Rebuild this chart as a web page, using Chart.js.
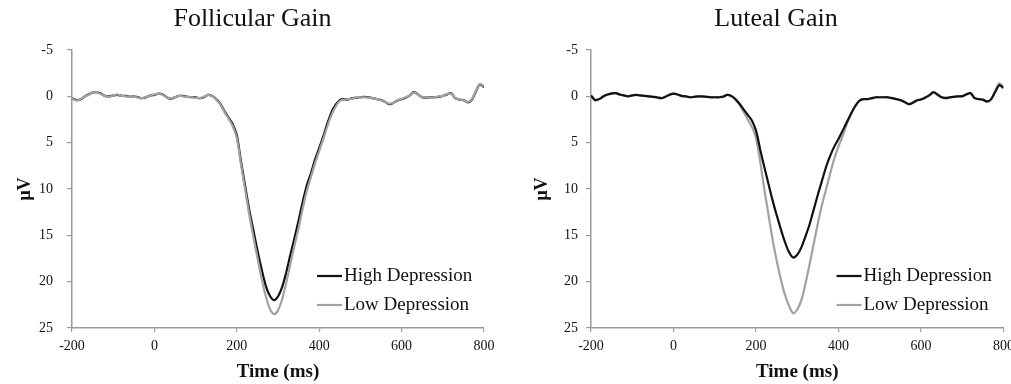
<!DOCTYPE html>
<html>
<head>
<meta charset="utf-8">
<script src="https://cdn.jsdelivr.net/npm/chart.js@4.4.0/dist/chart.umd.min.js"></script>
<style>
  html, body { margin: 0; padding: 0; background: #fff; }
  body { width: 1011px; height: 384px; position: relative; overflow: hidden; }
  canvas { position: absolute; top: 0; }
</style>
</head>
<body>
<canvas id="folChart" width="505" height="384" style="left:0px"></canvas>
<canvas id="lutChart" width="486" height="384" style="left:525px"></canvas>
<script>
'use strict';

// time points (ms)
let times = [-200,-190,-180,-170,-160,-150,-140,-130,-120,-110,
  -100,-90,-80,-70,-60,-50,-40,-30,-20,-10,
  0,10,20,30,40,50,60,70,80,90,
  100,110,120,130,140,150,160,170,180,190,
  200,210,220,230,240,250,260,270,280,290,
  300,310,320,330,340,350,360,370,380,390,
  400,410,420,430,440,450,460,470,480,490,
  500,510,520,530,540,550,560,570,580,590,
  600,610,620,630,640,650,660,670,680,690,
  700,710,720,730,740,750,760,770,780,790,
  800];

let xTicks = [-200, 0, 200, 400, 600, 800];
let yTicks = [-5, 0, 5, 10, 15, 20, 25];
let seriesNames = ['High Depression', 'Low Depression'];

// Follicular gain, high depression
let folHigh = [0.2,0.4,0.35,0.05,-0.2,-0.4,-0.45,-0.3,-0.05,0.0,
  -0.1,-0.15,-0.05,-0.05,0.05,0.0,0.1,0.2,0.1,-0.1,
  -0.15,-0.3,-0.2,0.1,0.25,0.1,-0.05,-0.05,0.05,0.1,
  0.1,0.2,0.1,-0.15,-0.05,0.3,0.8,1.6,2.3,3.0,
  4.2,7.0,9.6,12.2,14.4,16.6,18.6,20.4,21.5,22.0,
  21.6,20.6,19.0,17.1,15.3,13.4,11.4,9.6,8.3,6.8,
  5.6,4.3,2.9,1.7,0.9,0.4,0.3,0.35,0.2,0.15,
  0.1,0.05,0.1,0.2,0.3,0.4,0.6,0.85,0.7,0.45,
  0.3,0.15,-0.1,-0.45,-0.2,0.1,0.15,0.1,0.1,0.05,
  -0.05,-0.2,-0.35,0.2,0.35,0.4,0.65,0.4,-0.5,-1.3,
  -1.0];

// Follicular gain, low depression
let folLow = [0.2,0.45,0.3,0.05,-0.15,-0.4,-0.45,-0.25,-0.05,0.05,
  -0.1,-0.2,-0.05,0.0,0.05,0.0,0.15,0.2,0.05,-0.1,
  -0.2,-0.3,-0.15,0.1,0.2,0.1,-0.05,0.0,0.05,0.1,
  0.15,0.2,0.05,-0.15,0.0,0.35,0.9,1.7,2.4,3.2,
  4.5,7.3,10.0,12.7,15.1,17.4,19.6,21.5,22.9,23.5,
  23.1,21.9,20.1,18.1,16.1,14.2,12.1,10.2,8.7,7.2,
  5.9,4.6,3.2,2.0,1.1,0.5,0.35,0.3,0.25,0.1,
  0.1,0.1,0.15,0.2,0.3,0.45,0.6,0.8,0.7,0.4,
  0.3,0.1,-0.1,-0.4,-0.2,0.1,0.1,0.15,0.1,0.0,
  -0.05,-0.25,-0.3,0.2,0.3,0.45,0.6,0.35,-0.55,-1.35,
  -1.1];

// Luteal gain, high depression
let lutHigh = [-0.1,0.4,0.3,0.0,-0.2,-0.3,-0.35,-0.2,-0.1,0.0,
  -0.1,-0.15,-0.1,-0.05,0.0,0.05,0.1,0.2,0.05,-0.15,
  -0.3,-0.2,-0.05,0.0,0.1,0.05,0.0,0.0,0.05,0.1,
  0.1,0.1,0.05,-0.15,-0.05,0.3,0.8,1.4,2.0,2.6,
  3.7,5.7,7.6,9.4,11.2,12.8,14.3,15.7,16.8,17.4,
  17.1,16.3,15.1,13.8,12.2,10.6,9.1,7.6,6.4,5.4,
  4.6,3.7,2.8,1.9,1.1,0.5,0.3,0.3,0.2,0.1,
  0.1,0.1,0.1,0.2,0.3,0.4,0.6,0.85,0.7,0.45,
  0.35,0.15,-0.1,-0.45,-0.2,0.1,0.2,0.1,0.05,0.0,
  0.0,-0.2,-0.35,0.2,0.3,0.35,0.55,0.3,-0.5,-1.2,
  -0.9];

// Luteal gain, low depression
let lutLow = [-0.1,0.45,0.3,0.05,-0.2,-0.35,-0.35,-0.15,-0.1,0.0,
  -0.1,-0.15,-0.05,-0.05,0.0,0.05,0.15,0.2,0.05,-0.2,
  -0.3,-0.2,0.0,0.0,0.1,0.05,0.0,0.05,0.05,0.1,
  0.1,0.1,0.0,-0.15,0.0,0.35,0.9,1.7,2.5,3.3,
  4.5,7.0,10.0,12.7,15.4,17.7,19.7,21.4,22.6,23.4,
  23.0,22.0,20.2,18.1,15.9,13.7,11.7,10.0,8.3,6.7,
  5.4,4.3,3.0,2.0,1.1,0.5,0.3,0.3,0.25,0.15,
  0.1,0.1,0.15,0.2,0.3,0.45,0.6,0.8,0.65,0.4,
  0.3,0.1,-0.1,-0.4,-0.15,0.1,0.15,0.15,0.05,0.0,
  -0.05,-0.25,-0.3,0.2,0.3,0.4,0.6,0.35,-0.6,-1.4,
  -1.0];

let fontFam = '"Liberation Serif", "Times New Roman", serif';
let axisGray = '#9a9a9a';

function toPoints(vals){
  let pts = [];
  for(let i = 0; i < times.length; i++){
    pts.push({x: times[i], y: vals[i]});
  }
  return pts;
}

// legend drawn inside the plot, bottom right
const insideLegend = {
  id: 'insideLegend',
  afterDatasetsDraw(chart){
    const ctx = chart.ctx;
    const area = chart.chartArea;
    const rows = [226, 255];
    ctx.save();
    ctx.font = '19px ' + fontFam;
    ctx.textBaseline = 'middle';
    ctx.textAlign = 'left';
    chart.data.datasets.forEach(function(ds, i){
      let y = area.top + rows[i];
      ctx.strokeStyle = ds.borderColor;
      ctx.lineWidth = ds.borderWidth;
      ctx.beginPath();
      ctx.moveTo(area.right - 167, y);
      ctx.lineTo(area.right - 142, y);
      ctx.stroke();
      ctx.fillStyle = '#111';
      ctx.fillText(ds.label, area.right - 140, y);
    });
    ctx.restore();
  }
};

function makeChart(id, titleText, high, low, cfg){
  let ctx = document.getElementById(id).getContext('2d');
  return new Chart(ctx, {
    type: 'line',
    data: {
      datasets: [{
        label: seriesNames[0],
        data: toPoints(high),
        borderColor: '#111111',
        borderWidth: 2.2,
        pointRadius: 0,
        tension: 0.3,
        order: cfg.highOrder
      }, {
        label: seriesNames[1],
        data: toPoints(low),
        borderColor: '#a2a2a2',
        borderWidth: 2.2,
        pointRadius: 0,
        tension: 0.3,
        order: 1 - cfg.highOrder
      }]
    },
    options: {
      responsive: false,
      animation: false,
      layout: { padding: { left: cfg.padLeft, right: 0, top: 0, bottom: 0 } },
      plugins: {
        legend: { display: false },
        tooltip: { enabled: false },
        title: {
          display: true,
          text: titleText,
          color: '#111',
          font: { family: fontFam, size: 26, weight: 'normal' },
          padding: { top: 4, bottom: 14.8 }
        }
      },
      scales: {
        x: {
          type: 'linear',
          min: -200,
          max: 800,
          afterBuildTicks: function(scale){ scale.ticks = xTicks.map(v => ({value: v})); },
          afterFit: function(scale){
            scale.height = 56;
            scale.paddingLeft = 0;
            scale.paddingRight = cfg.rightGap;
          },
          grid: { drawOnChartArea: false, drawTicks: true, tickLength: 4, color: axisGray, lineWidth: 1.2 },
          border: { display: true, color: axisGray, width: 1.5 },
          ticks: { color: '#111', padding: 6, font: { family: fontFam, size: 14 } },
          title: {
            display: true,
            text: 'Time (ms)',
            color: '#111',
            font: { family: fontFam, size: 19, weight: 'bold' },
            padding: { top: 0, bottom: 1 }
          }
        },
        y: {
          min: -5,
          max: 25,
          reverse: true,
          afterBuildTicks: function(scale){ scale.ticks = yTicks.map(v => ({value: v})); },
          afterFit: function(scale){ scale.width = cfg.yWidth; },
          grid: { drawOnChartArea: false, drawTicks: true, tickLength: 5, color: axisGray, lineWidth: 1.2 },
          border: { display: true, color: axisGray, width: 1.5 },
          ticks: { color: '#111', padding: cfg.yTickPad, font: { family: fontFam, size: 14 } },
          title: {
            display: true,
            text: 'μV',
            color: '#111',
            font: { family: fontFam, size: 18, weight: 'bold' },
            padding: { top: cfg.yTitlePad, bottom: 0 }
          }
        }
      }
    },
    plugins: [insideLegend]
  });
}

makeChart('folChart', 'Follicular Gain', folHigh, folLow,
  { padLeft: 0, yWidth: 72, rightGap: 21, yTickPad: 14, yTitlePad: 14.2, highOrder: 1 });
makeChart('lutChart', 'Luteal Gain', lutHigh, lutLow,
  { padLeft: 16, yWidth: 50, rightGap: 7.5, yTickPad: 8, yTitlePad: -9.3, highOrder: 0 });
</script>
</body>
</html>
